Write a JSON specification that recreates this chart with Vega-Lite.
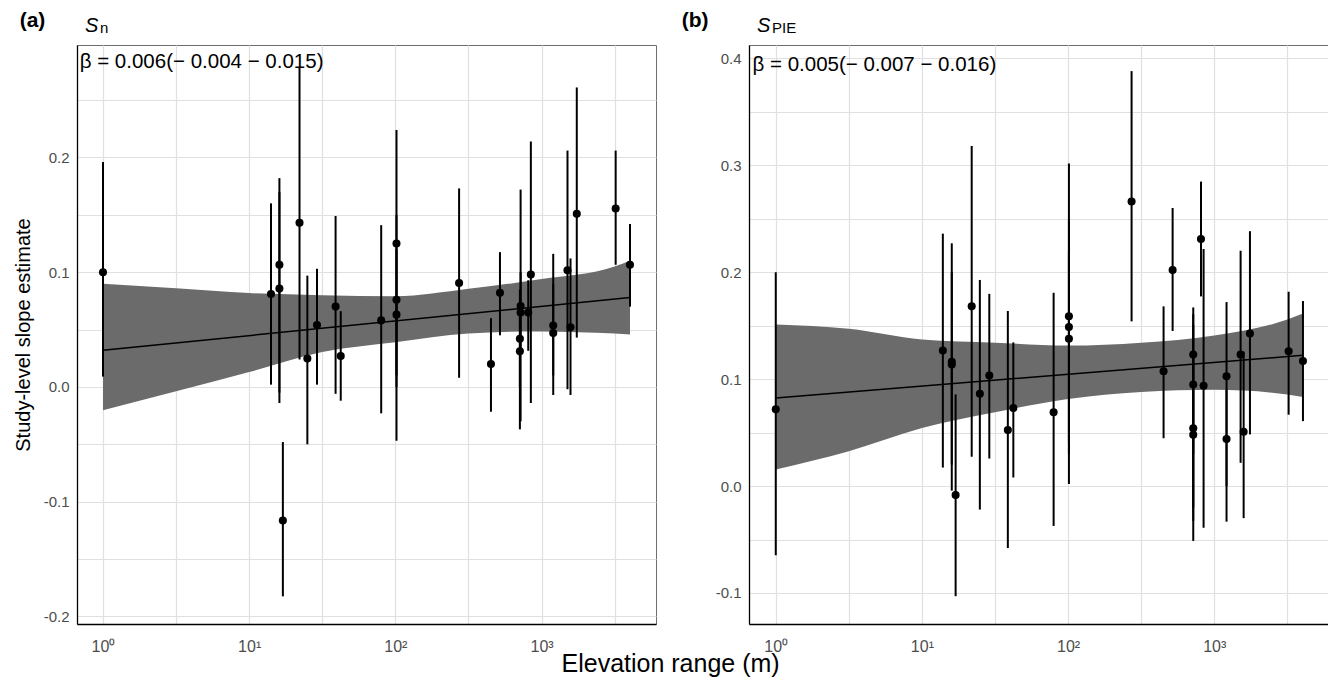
{
  "$schema": "https://vega.github.io/schema/vega-lite/v6.json",
  "background": "white",
  "padding": {"left": 12, "top": 9, "right": 0, "bottom": 0},
  "spacing": 24,
  "title": {"text": "Elevation range (m)", "orient": "bottom", "anchor": "middle", "fontSize": 25, "fontWeight": "normal", "font": "Liberation Sans", "color": "black", "offset": -3},
  "config": {
    "font": "Liberation Sans",
    "view": {"stroke": "#6e6e6e", "strokeWidth": 1},
    "axis": {
      "grid": true, "gridColor": "#e0e0e0", "gridWidth": 1.2, "ticks": false,
      "domainColor": "black", "domainWidth": 1.3,
      "labelColor": "#4d4d4d", "labelFontSize": 15, "labelPadding": 8, "labelFont": "Liberation Sans",
      "labelOverlap": false, "labelFlush": false,
      "titleFont": "Liberation Sans", "titleFontSize": 20, "titleFontWeight": "normal", "titleColor": "black", "titlePadding": 10
    }
  },
  "datasets": {
    "ptsA": [
      {"x": 1, "est": 0.100, "lo": 0.009, "hi": 0.196},
      {"x": 14.1, "est": 0.081, "lo": 0.002, "hi": 0.160},
      {"x": 16.1, "est": 0.1065, "lo": -0.014, "hi": 0.182},
      {"x": 16.1, "est": 0.0857, "lo": -0.005, "hi": 0.170},
      {"x": 17.0, "est": -0.1164, "lo": -0.1825, "hi": -0.048},
      {"x": 22.1, "est": 0.143, "lo": 0.024, "hi": 0.278},
      {"x": 25.0, "est": 0.0248, "lo": -0.050, "hi": 0.097},
      {"x": 29.1, "est": 0.054, "lo": 0.002, "hi": 0.103},
      {"x": 39.0, "est": 0.070, "lo": -0.006, "hi": 0.149},
      {"x": 42.3, "est": 0.027, "lo": -0.012, "hi": 0.066},
      {"x": 80.0, "est": 0.058, "lo": -0.023, "hi": 0.141},
      {"x": 101.8, "est": 0.125, "lo": -0.047, "hi": 0.224},
      {"x": 101.8, "est": 0.076, "lo": 0.000, "hi": 0.150},
      {"x": 101.8, "est": 0.063, "lo": 0.010, "hi": 0.120},
      {"x": 272.9, "est": 0.0906, "lo": 0.008, "hi": 0.173},
      {"x": 450.8, "est": 0.020, "lo": -0.0216, "hi": 0.060},
      {"x": 519.5, "est": 0.082, "lo": 0.045, "hi": 0.1175},
      {"x": 719, "est": 0.0706, "lo": -0.030, "hi": 0.172},
      {"x": 719, "est": 0.0648, "lo": 0.030, "hi": 0.100},
      {"x": 711, "est": 0.042, "lo": 0.000, "hi": 0.085},
      {"x": 711, "est": 0.031, "lo": -0.037, "hi": 0.070},
      {"x": 811, "est": 0.0648, "lo": 0.0315, "hi": 0.093},
      {"x": 845, "est": 0.098, "lo": -0.014, "hi": 0.214},
      {"x": 1202, "est": 0.0535, "lo": -0.007, "hi": 0.116},
      {"x": 1202, "est": 0.047, "lo": 0.010, "hi": 0.090},
      {"x": 1505, "est": 0.1016, "lo": -0.002, "hi": 0.206},
      {"x": 1578, "est": 0.052, "lo": -0.007, "hi": 0.112},
      {"x": 1742, "est": 0.151, "lo": 0.043, "hi": 0.261},
      {"x": 3214, "est": 0.1555, "lo": 0.1065, "hi": 0.206},
      {"x": 4027, "est": 0.1065, "lo": 0.070, "hi": 0.142}
    ],
    "ptsB": [
      {"x": 1, "est": 0.0717, "lo": -0.0646, "hi": 0.200},
      {"x": 13.9, "est": 0.1267, "lo": 0.0173, "hi": 0.236},
      {"x": 16.0, "est": 0.1163, "lo": -0.0043, "hi": 0.227},
      {"x": 16.0, "est": 0.1137, "lo": 0.020, "hi": 0.200},
      {"x": 17.0, "est": -0.0083, "lo": -0.103, "hi": 0.0857},
      {"x": 21.9, "est": 0.168, "lo": 0.0273, "hi": 0.318},
      {"x": 24.9, "est": 0.0863, "lo": -0.022, "hi": 0.1927},
      {"x": 28.9, "est": 0.1033, "lo": 0.0257, "hi": 0.1797},
      {"x": 38.7, "est": 0.0523, "lo": -0.058, "hi": 0.1637},
      {"x": 42.2, "est": 0.073, "lo": 0.008, "hi": 0.1343},
      {"x": 79.6, "est": 0.069, "lo": -0.0373, "hi": 0.1807},
      {"x": 101.3, "est": 0.1587, "lo": 0.002, "hi": 0.3017},
      {"x": 101.3, "est": 0.1487, "lo": 0.030, "hi": 0.250},
      {"x": 101.3, "est": 0.1377, "lo": 0.040, "hi": 0.220},
      {"x": 271.8, "est": 0.266, "lo": 0.154, "hi": 0.388},
      {"x": 449.9, "est": 0.1073, "lo": 0.0447, "hi": 0.168},
      {"x": 518.8, "est": 0.202, "lo": 0.145, "hi": 0.260},
      {"x": 718, "est": 0.123, "lo": -0.0327, "hi": 0.167},
      {"x": 718, "est": 0.095, "lo": 0.030, "hi": 0.1607},
      {"x": 718, "est": 0.054, "lo": -0.0513, "hi": 0.1507},
      {"x": 718, "est": 0.048, "lo": -0.020, "hi": 0.120},
      {"x": 811, "est": 0.231, "lo": 0.1773, "hi": 0.2847},
      {"x": 845, "est": 0.0937, "lo": -0.039, "hi": 0.2217},
      {"x": 1213, "est": 0.1027, "lo": -0.0333, "hi": 0.172},
      {"x": 1213, "est": 0.044, "lo": 0.000, "hi": 0.090},
      {"x": 1514, "est": 0.123, "lo": 0.0217, "hi": 0.220},
      {"x": 1588, "est": 0.0507, "lo": -0.030, "hi": 0.1257},
      {"x": 1754, "est": 0.1427, "lo": 0.0483, "hi": 0.2383},
      {"x": 3226, "est": 0.126, "lo": 0.0667, "hi": 0.1817},
      {"x": 4043, "est": 0.117, "lo": 0.0607, "hi": 0.173}
    ],
    "bandA": [
      {"x": 1, "lo": -0.0203, "hi": 0.0899},
      {"x": 3.162, "lo": -0.0037, "hi": 0.086},
      {"x": 10, "lo": 0.013, "hi": 0.0818},
      {"x": 31.62, "lo": 0.0305, "hi": 0.080},
      {"x": 100, "lo": 0.039, "hi": 0.079},
      {"x": 316.2, "lo": 0.0465, "hi": 0.0855},
      {"x": 1000, "lo": 0.0484, "hi": 0.094},
      {"x": 3162, "lo": 0.0465, "hi": 0.105},
      {"x": 4027, "lo": 0.0458, "hi": 0.110}
    ],
    "bandB": [
      {"x": 1, "lo": 0.0155, "hi": 0.151},
      {"x": 3.162, "lo": 0.0326, "hi": 0.147},
      {"x": 10, "lo": 0.0543, "hi": 0.137},
      {"x": 31.62, "lo": 0.069, "hi": 0.134},
      {"x": 100, "lo": 0.0813, "hi": 0.1313},
      {"x": 316.2, "lo": 0.088, "hi": 0.134},
      {"x": 1000, "lo": 0.090, "hi": 0.1407},
      {"x": 3162, "lo": 0.0857, "hi": 0.1557},
      {"x": 4043, "lo": 0.0833, "hi": 0.1613}
    ],
    "fitA": [{"x": 1, "y": 0.032}, {"x": 4027, "y": 0.078}],
    "fitB": [{"x": 1, "y": 0.0823}, {"x": 4043, "y": 0.1223}],
    "noteA": [{"label": "β = 0.006(− 0.004 − 0.015)"}],
    "noteB": [{"label": "β = 0.005(− 0.007 − 0.016)"}]
  },
  "hconcat": [
    {
      "title": {"text": "(a)", "anchor": "start", "frame": "bounds", "fontSize": 21, "fontWeight": "bold", "color": "black", "offset": 0, "dx": 7, "dy": 15},
      "vconcat": [
        {
          "width": 579, "height": 579,
          "title": {"text": "S", "subtitle": "\u200b\u2002\u2002n", "anchor": "start", "frame": "group", "fontStyle": "italic", "fontSize": 20, "fontWeight": "normal", "color": "black", "subtitleFontSize": 15, "subtitleColor": "black", "subtitleFontStyle": "normal", "subtitlePadding": -15, "offset": 9, "dx": 8},
          "layer": [
            {
              "data": {"name": "bandA"},
              "mark": {"type": "area", "color": "#6b6b6b", "opacity": 1, "interpolate": "monotone"},
              "encoding": {
                "x": {"field": "x", "type": "quantitative", "scale": {"type": "log", "domain": [0.664, 6067], "nice": false},
                  "axis": {"title": null, "values": [1, 3.1623, 10, 31.623, 100, 316.23, 1000, 3162.3], "labelFontSize": 16, "labelPadding": 14,
                    "labelExpr": "datum.value == 1 ? '10⁰' : datum.value == 10 ? '10¹' : datum.value == 100 ? '10²' : datum.value == 1000 ? '10³' : ''"}},
                "y": {"field": "lo", "type": "quantitative", "scale": {"domain": [-0.2066, 0.298], "nice": false, "zero": false},
                  "axis": {"title": "Study-level slope estimate", "values": [-0.2, -0.15, -0.1, -0.05, 0, 0.05, 0.1, 0.15, 0.2, 0.25],
                    "labelExpr": "abs(datum.value*10 - round(datum.value*10)) < 0.001 ? (datum.value < 0 ? '-' + format(-datum.value, '.1f') : format(datum.value, '.1f')) : ''"}},
                "y2": {"field": "hi"}
              }
            },
            {
              "data": {"name": "ptsA"},
              "mark": {"type": "rule", "color": "black", "strokeWidth": 2},
              "encoding": {
                "x": {"field": "x", "type": "quantitative"},
                "y": {"field": "lo", "type": "quantitative"},
                "y2": {"field": "hi"}
              }
            },
            {
              "data": {"name": "ptsA"},
              "mark": {"type": "point", "filled": true, "color": "black", "size": 65, "opacity": 1},
              "encoding": {
                "x": {"field": "x", "type": "quantitative"},
                "y": {"field": "est", "type": "quantitative"}
              }
            },
            {
              "data": {"name": "fitA"},
              "mark": {"type": "line", "color": "black", "strokeWidth": 1.5},
              "encoding": {
                "x": {"field": "x", "type": "quantitative"},
                "y": {"field": "y", "type": "quantitative"}
              }
            },
            {
              "data": {"name": "noteA"},
              "mark": {"type": "text", "align": "left", "baseline": "middle", "fontSize": 20.5, "color": "black"},
              "encoding": {
                "x": {"datum": 0.693, "type": "quantitative"},
                "y": {"datum": 0.283, "type": "quantitative"},
                "text": {"field": "label"}
              }
            }
          ]
        }
      ]
    },
    {
      "title": {"text": "(b)", "anchor": "start", "frame": "bounds", "fontSize": 21, "fontWeight": "bold", "color": "black", "offset": 0, "dx": -33, "dy": 15},
      "vconcat": [
        {
          "width": 579, "height": 579,
          "title": {"text": "S", "subtitle": "\u200b\u2002\u2002PIE", "anchor": "start", "frame": "group", "fontStyle": "italic", "fontSize": 20, "fontWeight": "normal", "color": "black", "subtitleFontSize": 15, "subtitleColor": "black", "subtitleFontStyle": "normal", "subtitlePadding": -15, "offset": 9, "dx": 8},
          "layer": [
            {
              "data": {"name": "bandB"},
              "mark": {"type": "area", "color": "#6b6b6b", "opacity": 1, "interpolate": "monotone"},
              "encoding": {
                "x": {"field": "x", "type": "quantitative", "scale": {"type": "log", "domain": [0.656, 5998], "nice": false},
                  "axis": {"title": null, "values": [1, 3.1623, 10, 31.623, 100, 316.23, 1000, 3162.3], "labelFontSize": 16, "labelPadding": 14,
                    "labelExpr": "datum.value == 1 ? '10⁰' : datum.value == 10 ? '10¹' : datum.value == 100 ? '10²' : datum.value == 1000 ? '10³' : ''"}},
                "y": {"field": "lo", "type": "quantitative", "scale": {"domain": [-0.129, 0.4124], "nice": false, "zero": false},
                  "axis": {"title": null, "values": [-0.1, -0.05, 0, 0.05, 0.1, 0.15, 0.2, 0.25, 0.3, 0.35, 0.4],
                    "labelExpr": "abs(datum.value*10 - round(datum.value*10)) < 0.001 ? (datum.value < 0 ? '-' + format(-datum.value, '.1f') : format(datum.value, '.1f')) : ''"}},
                "y2": {"field": "hi"}
              }
            },
            {
              "data": {"name": "ptsB"},
              "mark": {"type": "rule", "color": "black", "strokeWidth": 2},
              "encoding": {
                "x": {"field": "x", "type": "quantitative"},
                "y": {"field": "lo", "type": "quantitative"},
                "y2": {"field": "hi"}
              }
            },
            {
              "data": {"name": "ptsB"},
              "mark": {"type": "point", "filled": true, "color": "black", "size": 65, "opacity": 1},
              "encoding": {
                "x": {"field": "x", "type": "quantitative"},
                "y": {"field": "est", "type": "quantitative"}
              }
            },
            {
              "data": {"name": "fitB"},
              "mark": {"type": "line", "color": "black", "strokeWidth": 1.5},
              "encoding": {
                "x": {"field": "x", "type": "quantitative"},
                "y": {"field": "y", "type": "quantitative"}
              }
            },
            {
              "data": {"name": "noteB"},
              "mark": {"type": "text", "align": "left", "baseline": "middle", "fontSize": 20.5, "color": "black"},
              "encoding": {
                "x": {"datum": 0.693, "type": "quantitative"},
                "y": {"datum": 0.394, "type": "quantitative"},
                "text": {"field": "label"}
              }
            }
          ]
        }
      ]
    }
  ]
}
